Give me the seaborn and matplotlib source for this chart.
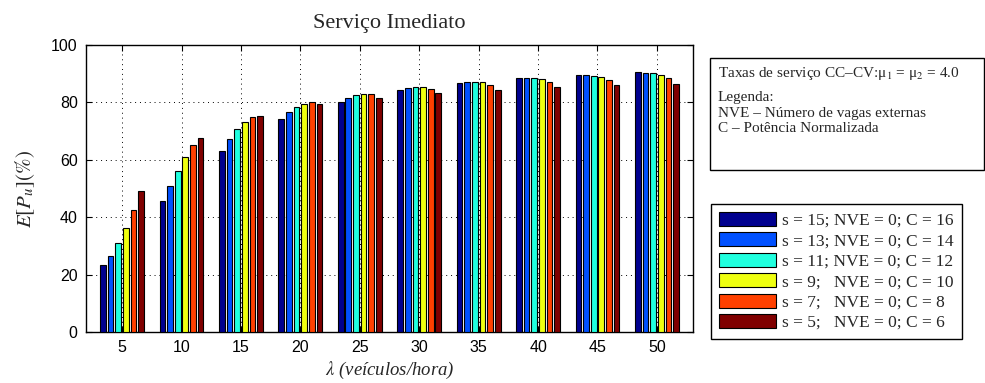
import numpy as np
import pandas as pd
import matplotlib
matplotlib.use("Agg")
import matplotlib.pyplot as plt
import seaborn as sns
from matplotlib.patches import Rectangle

# ---- data ----
lambdas = ["5", "10", "15", "20", "25", "30", "35", "40", "45", "50"]
series_labels = [
    "s = 15; NVE = 0; C = 16",
    "s = 13; NVE = 0; C = 14",
    "s = 11; NVE = 0; C = 12",
    "s = 9;   NVE = 0; C = 10",
    "s = 7;   NVE = 0; C = 8",
    "s = 5;   NVE = 0; C = 6",
]
s15 = [23.4, 45.7, 63.2, 74.1, 80.3, 84.2, 86.9, 88.4, 89.7, 90.5]
s13 = [26.6, 50.9, 67.2, 76.5, 81.7, 85.0, 87.2, 88.5, 89.7, 90.4]
s11 = [30.9, 56.1, 70.7, 78.4, 82.7, 85.5, 87.2, 88.5, 89.3, 90.1]
s9 = [36.2, 61.1, 73.3, 79.5, 83.1, 85.5, 87.0, 88.0, 88.8, 89.6]
s7 = [42.5, 65.2, 75.0, 80.1, 82.9, 84.8, 86.2, 87.2, 87.9, 88.5]
s5 = [49.0, 67.7, 75.4, 79.4, 81.7, 83.4, 84.4, 85.4, 85.9, 86.5]
colors = ["#00008F", "#0050FF", "#20FFDF", "#EFFF10", "#FF4000", "#800000"]

rows = []
for lab, vals in zip(series_labels, [s15, s13, s11, s9, s7, s5]):
    for x, v in zip(lambdas, vals):
        rows.append({"lambda": x, "serie": lab, "valor": v})
df = pd.DataFrame(rows)

sns.set_style("white")
plt.rcParams["font.family"] = ["Liberation Sans", "DejaVu Sans"]
plt.rcParams["mathtext.fontset"] = "stix"

fig = plt.figure(figsize=(9.85, 3.83), dpi=100)
ax = fig.add_axes([86 / 985, 1 - 332 / 383, (693 - 86) / 985, (332 - 45) / 383])

sns.barplot(data=df, x="lambda", y="valor", hue="serie", order=lambdas,
            hue_order=series_labels, palette=colors, width=0.77, gap=0.25,
            edgecolor="black", linewidth=0.8, saturation=1, ax=ax, zorder=3)

ax.set_xlim(-0.607, 9.607)
ax.set_ylim(0, 100)
ax.set_yticks([0, 20, 40, 60, 80, 100])
ax.grid(True, linestyle=(0, (1, 4)), color="black", linewidth=0.7, zorder=0)
ax.set_axisbelow(True)
for sp in ax.spines.values():
    sp.set_visible(True)
    sp.set_color("black")
    sp.set_linewidth(1.0)
ax.tick_params(direction="in", length=4, top=True, right=True, bottom=True, left=True,
               labelsize=11.5, colors="black", width=0.8)
ax.tick_params(axis="y", pad=6)
ax.tick_params(axis="x", pad=6)

ax.set_xlabel(r"$\lambda$ (veículos/hora)", family="Liberation Serif", style="italic",
              fontsize=13.5, labelpad=3)
ax.set_ylabel(r"$E[P_u](\%)$", fontsize=15, labelpad=10)
ax.set_title("Serviço Imediato", family="Liberation Serif", fontsize=16, pad=12)

leg = ax.get_legend()
handles = leg.legend_handles
leg.remove()
lg = fig.legend(handles, series_labels, loc="upper left",
                bbox_to_anchor=(711 / 985, 1 - 204 / 383),
                prop={"family": "Liberation Serif", "size": 12.5},
                frameon=True, fancybox=False, edgecolor="black", framealpha=1,
                handlelength=3.3, handleheight=0.86, handletextpad=0.35,
                labelspacing=0.2, borderpad=0.45, borderaxespad=0)
lg.get_frame().set_linewidth(1.0)
for h in lg.legend_handles:
    h.set_edgecolor("black")
    h.set_linewidth(0.8)

# info box
fig.patches.append(Rectangle((710 / 985, 1 - 170 / 383), (984 - 710) / 985, (170 - 58) / 383,
                             transform=fig.transFigure, fill=False, edgecolor="black",
                             linewidth=1.0))
tx = 718 / 985
fig.text(tx, 1 - 73 / 383, r"Taxas de serviço CC–CV:μ$_1$ = μ$_2$ = 4.0",
         family="Liberation Serif", fontsize=11, va="center")
fig.text(tx, 1 - 98 / 383, "Legenda:", family="Liberation Serif", fontsize=11, va="center")
fig.text(tx, 1 - 114 / 383, "NVE – Número de vagas externas", family="Liberation Serif",
         fontsize=11, va="center")
fig.text(tx, 1 - 129 / 383, "C – Potência Normalizada", family="Liberation Serif",
         fontsize=11, va="center")

fig.savefig("out.png", dpi=100)
